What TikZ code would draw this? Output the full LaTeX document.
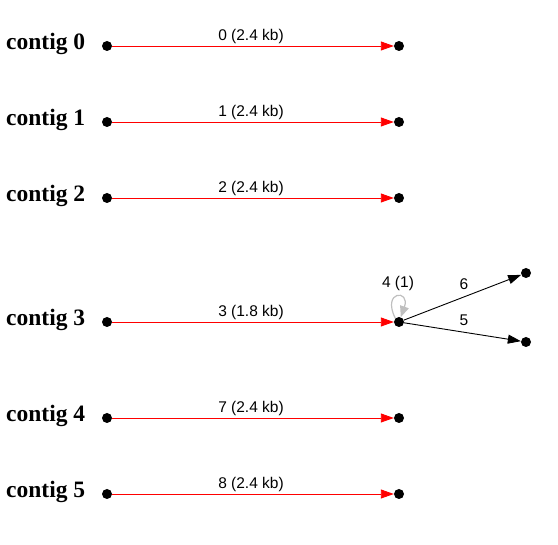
\documentclass[tikz,border=0pt]{standalone}
\usepackage{fontspec}
\setmainfont{Liberation Serif}
\newfontfamily\labfont{Liberation Sans}
\usetikzlibrary{arrows.meta}
\begin{document}
\begin{tikzpicture}[x=1pt,y=-1pt,
  dot/.style={circle,fill=black,inner sep=0pt,minimum size=10pt},
  ctg/.style={anchor=west,font=\bfseries\fontsize{23.5}{26}\selectfont,inner sep=0pt},
  elab/.style={font=\labfont\fontsize{15.5}{17}\selectfont,inner sep=0pt,text=black},
  redge/.style={draw=red,line width=0.9pt,-{Triangle[length=13pt,width=9pt]},color=red},
  bedge/.style={draw=black,line width=0.9pt,-{Triangle[length=13pt,width=9pt]}},
  gedge/.style={draw=black!25,line width=1.2pt,-{Triangle[length=11pt,width=9pt]},color=black!25}]
\useasboundingbox (0,0) rectangle (558,545);
\foreach \i/\y/\lab/\c in {0/46/0 (2.4 kb)/contig 0,1/122/1 (2.4 kb)/contig 1,2/198/2 (2.4 kb)/contig 2,3/322/3 (1.8 kb)/contig 3,4/418/7 (2.4 kb)/contig 4,5/494/8 (2.4 kb)/contig 5}{
  \node[ctg] (c\i) at (6,\y-2) {\c};
  \node[dot] (l\i) at (107,\y) {};
  \node[dot] (r\i) at (399,\y) {};
  \node[elab] (e\i) at (251,\y-10) {\lab};
  \draw[redge] (l\i) -- (r\i);
}
\node[dot] (a) at (526,273) {};
\node[dot] (b) at (526,342) {};
\draw[bedge] (r3) -- (a);
\draw[bedge] (r3) -- (b);
\node[elab] (e6) at (464,284) {6};
\node[elab] (e5) at (464,320) {5};
\draw[gedge] (r3.135) .. controls +(-14,-28) and +(10,-28) .. (r3.70);
\node[elab] (e4) at (398,283) {4 (1)};
\end{tikzpicture}
\end{document}
